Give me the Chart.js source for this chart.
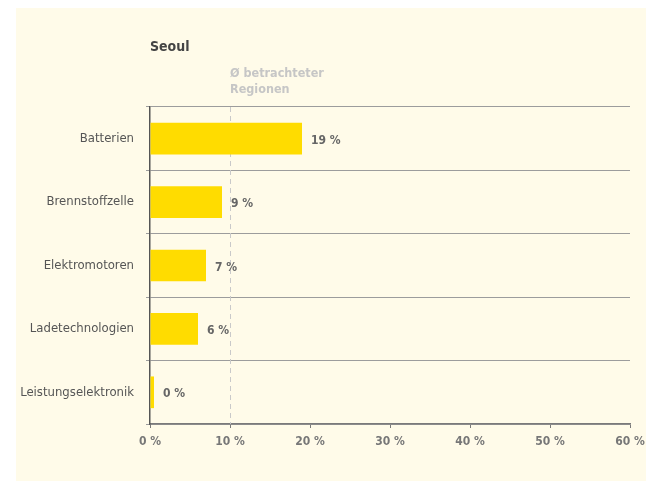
<!DOCTYPE html>
<html>
<head>
<meta charset="utf-8">
<script src="https://cdn.jsdelivr.net/npm/chart.js@4.4.1/dist/chart.umd.min.js"></script>
<style>
  html, body { margin: 0; padding: 0; background: #fff; }
  #wrap { width: 646px; height: 481px; position: relative; }
</style>
</head>
<body>
<div id="wrap"><canvas id="chart" width="646" height="481"></canvas></div>
<script>
// Anteile je Technologiefeld (Seoul)
const categories = ['Batterien', 'Brennstoffzelle', 'Elektromotoren', 'Ladetechnologien', 'Leistungselektronik'];
const shares = [19, 9, 7, 6, 0];
const regionAverage = 10;
const tickValues = [0, 10, 20, 30, 40, 50, 60];

const FONT = "'Liberation Sans Narrow', 'DejaVu Sans Condensed', 'Liberation Sans', sans-serif";

// cream panel behind everything
const panelBg = {
    id: 'panelBg',
    beforeDraw(chart) {
        const ctx = chart.ctx;
        ctx.save();
        ctx.fillStyle = '#fffbe9';
        ctx.fillRect(16, 8, chart.width - 16, chart.height - 8);
        ctx.restore();
    }
};

// title, average marker and value labels
const overlay = {
    id: 'overlay',
    beforeDatasetsDraw(chart) {
        const { ctx, chartArea, scales } = chart;
        const x = Math.round(scales.x.getPixelForValue(regionAverage)) + 0.5;
        ctx.save();
        ctx.strokeStyle = '#c9c9c9';
        ctx.lineWidth = 1;
        ctx.setLineDash([5, 4]);
        ctx.beginPath();
        ctx.moveTo(x, chartArea.top);
        ctx.lineTo(x, chartArea.bottom);
        ctx.stroke();
        ctx.restore();
    },
    afterDatasetsDraw(chart) {
        const { ctx, chartArea, scales } = chart;
        ctx.save();
        ctx.textBaseline = 'alphabetic';
        ctx.textAlign = 'left';

        ctx.fillStyle = '#444';
        ctx.font = 'bold 14px ' + FONT;
        ctx.fillText('Seoul', chartArea.left, 51);

        const ax = scales.x.getPixelForValue(regionAverage);
        ctx.fillStyle = '#c6c6c6';
        ctx.font = 'bold 12.5px ' + FONT;
        ctx.fillText('Ø betrachteter', ax, 77);
        ctx.fillText('Regionen', ax, 93);

        ctx.fillStyle = '#666';
        ctx.font = 'bold 12px ' + FONT;
        ctx.textBaseline = 'middle';
        chart.getDatasetMeta(0).data.forEach((bar, i) => {
            ctx.fillText(shares[i] + ' %', bar.x + 9, bar.y + 2);
        });
        ctx.restore();
    }
};

new Chart(document.getElementById('chart'), {
    type: 'bar',
    data: {
        labels: categories,
        datasets: [{
            data: shares,
            backgroundColor: '#ffdc00',
            borderWidth: 0,
            barPercentage: 0.5,
            categoryPercentage: 1,
            minBarLength: 4
        }]
    },
    options: {
        indexAxis: 'y',
        responsive: false,
        animation: false,
        layout: { padding: { top: 107, right: 16, bottom: 27, left: 0 } },
        plugins: {
            legend: { display: false },
            tooltip: { enabled: false }
        },
        scales: {
            x: {
                min: 0,
                max: 60,
                afterBuildTicks(scale) {
                    scale.ticks = tickValues.map(v => ({ value: v }));
                },
                afterFit(scale) {
                    scale.height = 30;
                    // let the "60 %" label hang past the plot edge
                    scale.paddingLeft = 0;
                    scale.paddingRight = 0;
                },
                border: { color: '#7a7a7a', width: 1.5 },
                grid: { drawOnChartArea: false, drawTicks: true, tickLength: 4, color: '#7a7a7a' },
                ticks: {
                    color: '#777',
                    padding: 7,
                    font: { family: FONT, size: 12, weight: 'bold' },
                    callback: v => v + ' %',
                    maxRotation: 0
                }
            },
            y: {
                afterFit(scale) { scale.width = 150; },
                border: { color: '#555', width: 1.5 },
                grid: { offset: true, color: '#9c9c9c', lineWidth: 1, tickLength: 4, drawTicks: true },
                ticks: {
                    color: '#555',
                    padding: 12,
                    font: { family: FONT, size: 13 }
                }
            }
        }
    },
    plugins: [panelBg, overlay]
});
</script>
</body>
</html>
